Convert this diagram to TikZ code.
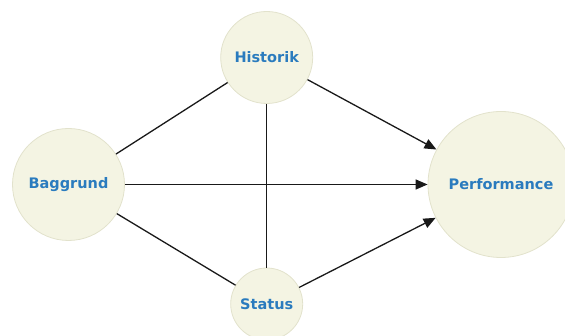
\documentclass[tikz,border=0pt]{standalone}
\usepackage{fontspec}
\setmainfont{DejaVu Sans}
\usetikzlibrary{arrows.meta}

\definecolor{bubblefill}{HTML}{F4F4E3}
\definecolor{bubbleline}{HTML}{E2E2CC}
\definecolor{bubbletext}{HTML}{2A7BBE}

\begin{document}
\begin{tikzpicture}[x=1pt, y=1pt,
		bubble/.style={circle, draw=bubbleline, line width=0.8pt, fill=bubblefill, inner sep=0pt,
			text=bubbletext, font=\fontsize{14.5}{16}\selectfont\bfseries},
		link/.style={line width=1.3pt, black!90},
		arr/.style={link, -{Triangle[length=12pt,width=10pt]}}]
		\useasboundingbox (0,0) rectangle (565,336);
		\clip (0,0) rectangle (565,336);
		
		\node[bubble, minimum size=112pt] (bag) at (68.5,151.5) {Baggrund};
		\node[bubble, minimum size=92pt] (his) at (266.7,278.5) {Historik};
		\node[bubble, minimum size=72pt] (sta) at (266.7,32) {Status};
		\node[bubble, minimum size=146pt] (per) at (501,151.5) {Performance};
		
		\draw[link] (bag) -- (his);
		\draw[link] (bag) -- (sta);
		\draw[link] (his) -- (sta);
		\draw[arr] (his) -- (per);
		\draw[arr] (bag) -- (per);
		\draw[arr] (sta) -- (per);
\end{tikzpicture}
\end{document}
